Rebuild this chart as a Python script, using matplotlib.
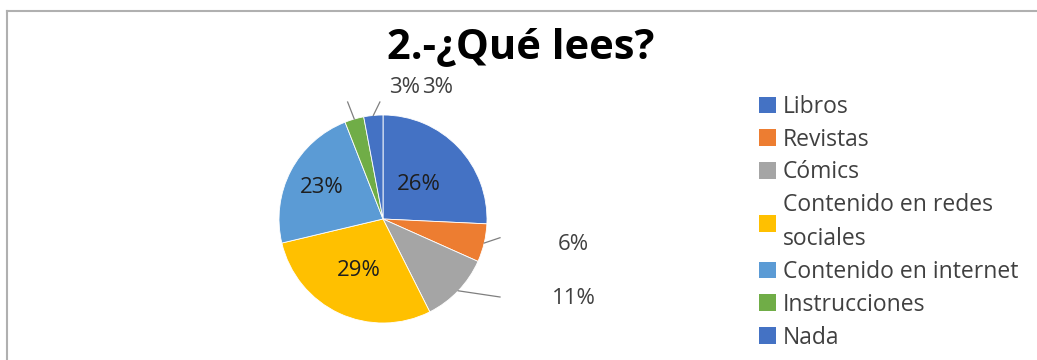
import numpy as np
import matplotlib
matplotlib.use("Agg")
from matplotlib import pyplot as plt
from matplotlib.lines import Line2D
from matplotlib.patches import Patch

plt.rcParams['font.family'] = ['Open Sans', 'DejaVu Sans']

# survey answers: what do you read?
categories = ["Libros", "Revistas", "Cómics", "Contenido en redes\nsociales",
              "Contenido en internet", "Instrucciones", "Nada"]
percents = [26, 6, 11, 29, 23, 3, 3]
colors = ["#4472C4", "#ED7D31", "#A5A5A5", "#FFC000", "#5B9BD5", "#70AD47", "#4472C4"]
title = "2.-¿Qué lees?"

W, H = 1037, 360
fig = plt.figure(figsize=(W / 100, H / 100), dpi=100)

# pie centre / radius in pixels
cx, cy, rad = 383, 219, 104
hw, hh = 203, 140
ax = fig.add_axes([(cx - hw) / W, (H - cy - hh) / H, 2 * hw / W, 2 * hh / H])
wedges, _ = ax.pie(percents, colors=colors, startangle=90, counterclock=False,
                   radius=1, wedgeprops=dict(edgecolor="white", linewidth=0.6))
ax.set_xlim(-hw / rad, hw / rad)
ax.set_ylim(-hh / rad, hh / rad)
ax.set_aspect('equal')
ax.axis('off')

labelColor = "#404040"
fs = 16
total = float(sum(percents))
cum = np.cumsum([0] + percents)
midAngles = [np.deg2rad(90 - (cum[i] + percents[i] / 2.0) / total * 360)
             for i in range(len(percents))]

# labels inside the big slices
for i in (0, 3, 4):
    r = {0: 0.48, 3: 0.55, 4: 0.66}[i]
    ax.text(r * np.cos(midAngles[i]), r * np.sin(midAngles[i]),
            "{}%".format(percents[i]), ha='center', va='center',
            fontsize=fs, color="#1e1e1e")

# outside labels with leader lines (label pos, line end)
outside = {1: ((1.83, -0.245), (1.125, -0.18)),
           2: ((1.835, -0.765), (1.125, -0.75)),
           5: ((0.21, 1.265), (-0.34, 1.125)),
           6: ((0.52, 1.265), (-0.03, 1.125))}
for i, (txtPos, lineEnd) in outside.items():
    a = midAngles[i]
    ax.plot([np.cos(a), lineEnd[0]], [np.sin(a), lineEnd[1]],
            color="#7f7f7f", lw=0.9, clip_on=False)
    ax.text(txtPos[0], txtPos[1], "{}%".format(percents[i]), ha='center',
            va='center', fontsize=fs, color=labelColor, clip_on=False)

fig.text(521 / W, (H - 58) / H, title, ha='center', va='baseline',
         fontsize=30, fontweight='bold', color="black")

handles = [Patch(facecolor=c, edgecolor='none') for c in colors]
leg = fig.legend(handles, categories, loc='upper left',
                 bbox_to_anchor=(759 / W, (H - 95) / H), frameon=False,
                 fontsize=16.5, handlelength=0.74, handleheight=0.74,
                 handletextpad=0.3, labelspacing=0.38, borderpad=0,
                 borderaxespad=0)
for t in leg.get_texts():
    t.set_color(labelColor)
    t.set_linespacing(1.57)

# thin frame at top and left edge
fig.add_artist(Line2D([7 / W, 1], [(H - 11) / H] * 2, color="#b0b0b0", lw=1.5))
fig.add_artist(Line2D([7 / W] * 2, [0, (H - 11) / H], color="#b0b0b0", lw=1.5))

fig.savefig("out.png", dpi=100)
